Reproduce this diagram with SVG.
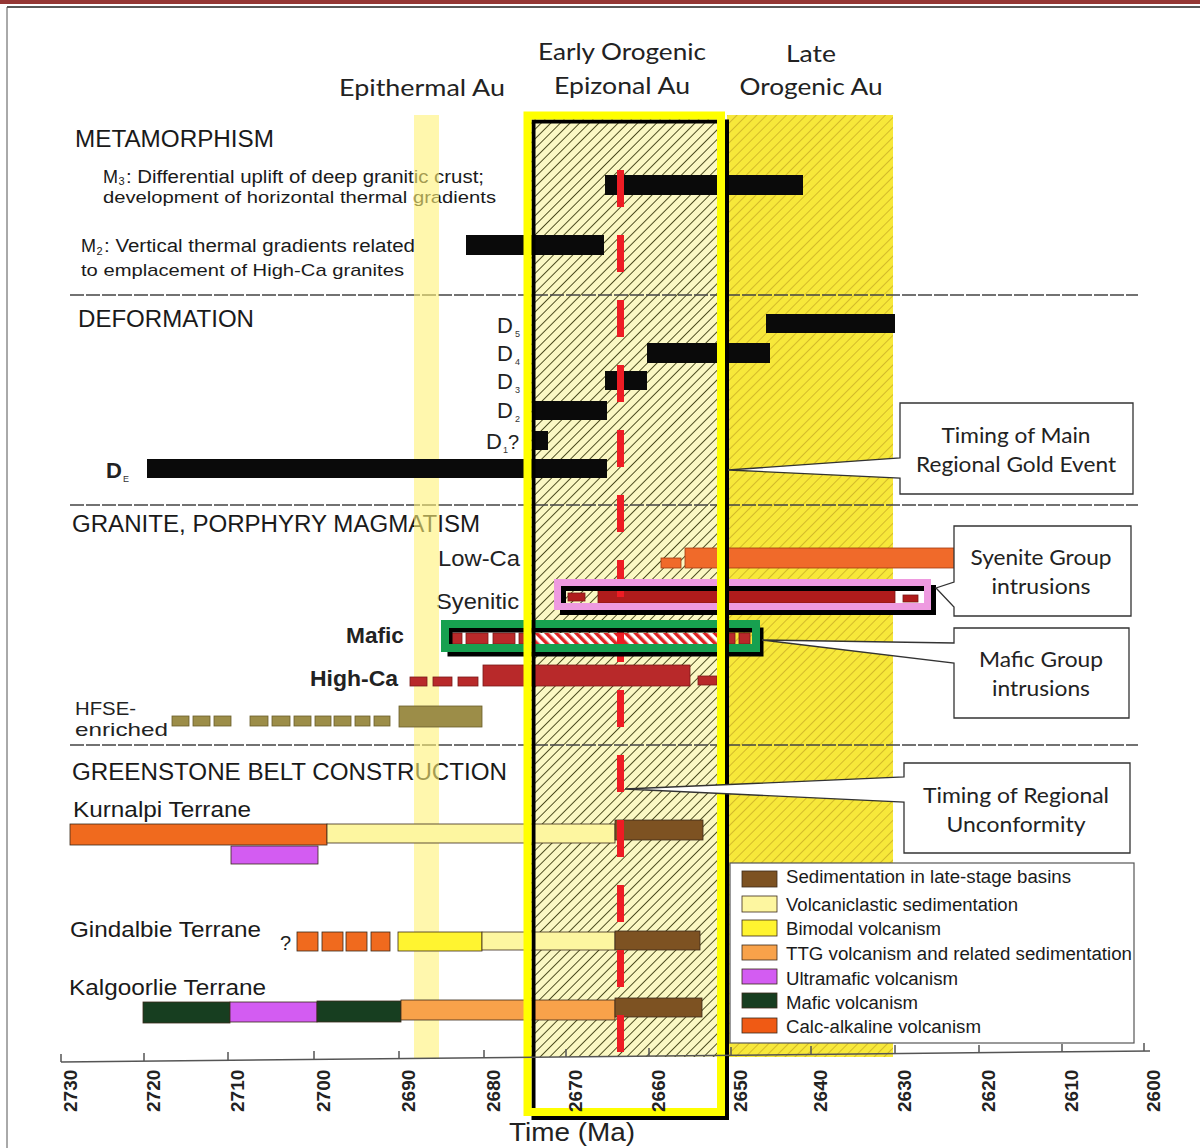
<svg xmlns="http://www.w3.org/2000/svg" width="1200" height="1148" viewBox="0 0 1200 1148">
<defs>
<style>
.hd{font-family:Lato,"Open Sans",sans-serif;font-size:24px;fill:#222;text-anchor:middle}
.co{font-family:Lato,"Open Sans",sans-serif;font-size:22px;fill:#222;text-anchor:middle}
.sec{font-family:"Liberation Sans",Arial,sans-serif;font-size:23px;fill:#1a1a1a}
.lb{font-family:"Liberation Sans",Arial,sans-serif;font-size:18px;fill:#1a1a1a}
.dl{font-family:"Liberation Sans",Arial,sans-serif;font-size:22px;fill:#222}
.sub{font-family:"Liberation Sans",Arial,sans-serif;font-size:9px;fill:#333}
.lg{font-family:"Liberation Sans",Arial,sans-serif;font-size:18px;fill:#1a1a1a}
.ax{font-family:"Liberation Sans",Arial,sans-serif;font-size:19px;fill:#222;font-weight:bold}
.blk{fill:#0a0a0a}
.gr{fill:#b8292a;stroke:#7a1a18;stroke-width:0.8}
.ol{fill:#9c8d48;stroke:#6a5e2a;stroke-width:0.8}
.gs{stroke:#3a2a1a;stroke-width:0.8}
.sep{stroke:#444;stroke-width:1.5;stroke-dasharray:14 2;fill:none}
.call{fill:#fff;stroke:#333;stroke-width:1.3}
</style>
<pattern id="hatchEarly" patternUnits="userSpaceOnUse" width="6.8" height="6.8" patternTransform="rotate(45)">
<rect width="6.8" height="6.8" fill="#fbf8c4"/>
<line x1="0" y1="0" x2="0" y2="6.8" stroke="#3e3e12" stroke-width="1.8"/>
</pattern>
<pattern id="hatchLate" patternUnits="userSpaceOnUse" width="7" height="7" patternTransform="rotate(45)">
<rect width="7" height="7" fill="#f7e83a"/>
<line x1="0" y1="0" x2="0" y2="7" stroke="#b08c1a" stroke-width="1"/>
</pattern>
<pattern id="hatchRed" patternUnits="userSpaceOnUse" width="7" height="7" patternTransform="rotate(-45)">
<rect width="7" height="7" fill="#ffffff"/>
<rect x="0" y="0" width="3.5" height="7" fill="#e02424"/>
</pattern>
</defs>

<rect width="1200" height="1148" fill="#fff"/>
<g id="frame">
<rect x="0" y="0" width="1200" height="4" fill="#943634"/>
<line x1="7" y1="7" x2="1200" y2="7" stroke="#222" stroke-width="1.5"/>
<line x1="7" y1="7" x2="7" y2="1148" stroke="#555" stroke-width="1"/>
</g>

<g id="zones">
<rect x="727" y="115" width="166" height="942" fill="url(#hatchLate)"/>
<rect x="531" y="119" width="192" height="938" fill="url(#hatchEarly)"/>
</g>

<g id="separators">
<line class="sep" x1="70" y1="295" x2="1138" y2="295"/>
<line class="sep" x1="70" y1="505" x2="1138" y2="505"/>
<line class="sep" x1="70" y1="745" x2="1138" y2="745"/>
</g>

<g id="headers">
<text class="hd" x="422" y="96" textLength="166" lengthAdjust="spacingAndGlyphs">Epithermal Au</text>
<text class="hd" x="622" y="60" textLength="168" lengthAdjust="spacingAndGlyphs">Early Orogenic</text>
<text class="hd" x="622" y="94" textLength="136" lengthAdjust="spacingAndGlyphs">Epizonal Au</text>
<text class="hd" x="811" y="62" textLength="50" lengthAdjust="spacingAndGlyphs">Late</text>
<text class="hd" x="811" y="95" textLength="143" lengthAdjust="spacingAndGlyphs">Orogenic Au</text>
</g>

<g id="labels">
<text class="sec" x="75" y="147" textLength="199" lengthAdjust="spacingAndGlyphs">METAMORPHISM</text>
<text class="lb" x="103" y="183">M</text>
<text class="lb" x="118.5" y="185" style="font-size:11px">3</text>
<text class="lb" x="126" y="183" textLength="358" lengthAdjust="spacingAndGlyphs">: Differential uplift of deep granitic crust;</text>
<text class="lb" x="103" y="203" textLength="393" lengthAdjust="spacingAndGlyphs" style="font-size:17px">development of horizontal thermal gradients</text>
<text class="lb" x="81" y="252">M</text>
<text class="lb" x="96.5" y="255" style="font-size:11px">2</text>
<text class="lb" x="104" y="252" textLength="311" lengthAdjust="spacingAndGlyphs">: Vertical thermal gradients related</text>
<text class="lb" x="81" y="276" textLength="323" lengthAdjust="spacingAndGlyphs" style="font-size:17px">to emplacement of High-Ca granites</text>

<text class="sec" x="78" y="327" textLength="176" lengthAdjust="spacingAndGlyphs">DEFORMATION</text>
<text class="dl" x="497" y="333">D</text><text class="sub" x="515" y="337">5</text>
<text class="dl" x="497" y="361">D</text><text class="sub" x="515" y="365">4</text>
<text class="dl" x="497" y="389">D</text><text class="sub" x="515" y="393">3</text>
<text class="dl" x="497" y="418">D</text><text class="sub" x="515" y="422">2</text>
<text class="dl" x="486" y="449">D</text><text class="sub" x="503" y="453">1</text><text class="dl" x="508" y="449" style="font-size:20px">?</text>
<text class="dl" x="106" y="478" style="font-weight:bold">D</text><text class="sub" x="123" y="482">E</text>

<text class="sec" x="72" y="532" textLength="408" lengthAdjust="spacingAndGlyphs">GRANITE, PORPHYRY MAGMATISM</text>
<text class="dl" x="520" y="566" text-anchor="end" textLength="82" lengthAdjust="spacingAndGlyphs">Low-Ca</text>
<text class="dl" x="519" y="609" text-anchor="end" textLength="83" lengthAdjust="spacingAndGlyphs">Syenitic</text>
<text class="dl" x="404" y="643" text-anchor="end" textLength="58" lengthAdjust="spacingAndGlyphs" style="font-weight:bold">Mafic</text>
<text class="dl" x="398" y="686" text-anchor="end" textLength="88" lengthAdjust="spacingAndGlyphs" style="font-weight:bold">High-Ca</text>
<text class="dl" x="75" y="715" textLength="61" lengthAdjust="spacingAndGlyphs" style="font-size:19px">HFSE-</text>
<text class="dl" x="75" y="736" textLength="93" lengthAdjust="spacingAndGlyphs" style="font-size:19px">enriched</text>

<text class="sec" x="72" y="780" textLength="435" lengthAdjust="spacingAndGlyphs">GREENSTONE BELT CONSTRUCTION</text>
<text class="sec" x="73" y="817" textLength="178" lengthAdjust="spacingAndGlyphs" style="font-size:22px">Kurnalpi Terrane</text>
<text class="sec" x="70" y="937" textLength="191" lengthAdjust="spacingAndGlyphs" style="font-size:22px">Gindalbie Terrane</text>
<text class="sec" x="69" y="995" textLength="197" lengthAdjust="spacingAndGlyphs" style="font-size:22px">Kalgoorlie Terrane</text>
<text class="dl" x="280" y="950" style="font-size:20px">?</text>
</g>

<rect id="epithermal-band" x="414" y="115" width="25" height="944" fill="#fff176" opacity="0.6"/>

<g id="metamorphism-bars">
<rect class="blk" x="605" y="175" width="198" height="20"/>
<rect class="blk" x="466" y="235" width="138" height="20"/>
</g>

<g id="deformation-bars">
<rect class="blk" x="766" y="314" width="129" height="19"/>
<rect class="blk" x="647" y="343" width="123" height="20"/>
<rect class="blk" x="605" y="371" width="42" height="19"/>
<rect class="blk" x="533" y="401" width="74" height="19"/>
<rect class="blk" x="533" y="431" width="15" height="19"/>
<rect class="blk" x="147" y="459" width="460" height="19"/>
</g>

<g id="granite-bars">
<rect x="661" y="558" width="20" height="10" fill="#f06a2a" stroke="#a03a10" stroke-width="0.8"/>
<rect x="685" y="548" width="270" height="20" fill="#f06a2a" stroke="#a03a10" stroke-width="0.8"/>
<rect class="gr" x="568" y="593" width="17" height="8" style="fill:#b01c1c"/>
<rect class="gr" x="598" y="590" width="297" height="13" style="fill:#b01c1c"/>
<rect class="gr" x="903" y="595" width="15" height="7" style="fill:#b01c1c"/>
<rect class="gr" x="451" y="633" width="11" height="11"/>
<rect class="gr" x="466" y="633" width="22" height="11"/>
<rect class="gr" x="493" y="633" width="22" height="11"/>
<rect class="gr" x="519" y="633" width="12" height="11"/>
<rect x="535" y="633" width="183" height="11" fill="url(#hatchRed)"/>
<rect class="gr" x="722" y="633" width="13" height="11"/>
<rect class="gr" x="739" y="633" width="11" height="11"/>
<rect class="gr" x="410" y="677" width="17" height="9"/>
<rect class="gr" x="433" y="677" width="19" height="9"/>
<rect class="gr" x="458" y="677" width="20" height="9"/>
<rect class="gr" x="483" y="665" width="207" height="21"/>
<rect class="gr" x="698" y="676" width="19" height="9"/>
<rect class="ol" x="172" y="716" width="17" height="10"/>
<rect class="ol" x="193" y="716" width="17" height="10"/>
<rect class="ol" x="214" y="716" width="17" height="10"/>
<rect class="ol" x="250" y="716" width="18" height="10"/>
<rect class="ol" x="272" y="716" width="18" height="10"/>
<rect class="ol" x="294" y="716" width="17" height="10"/>
<rect class="ol" x="315" y="716" width="16" height="10"/>
<rect class="ol" x="334" y="716" width="17" height="10"/>
<rect class="ol" x="355" y="716" width="15" height="10"/>
<rect class="ol" x="374" y="716" width="16" height="10"/>
<rect class="ol" x="399" y="706" width="83" height="21"/>
</g>

<g id="greenstone-bars">
<rect class="gs" x="70" y="824" width="257" height="21" fill="#f06a1e"/>
<rect class="gs" x="327" y="824" width="288" height="19" fill="#fdf6a0"/>
<rect class="gs" x="615" y="820" width="88" height="20" fill="#7d5222"/>
<rect class="gs" x="231" y="846" width="87" height="18" fill="#d35cf2"/>
<rect class="gs" x="297" y="932" width="21" height="19" fill="#f06a1e"/>
<rect class="gs" x="322" y="932" width="21" height="19" fill="#f06a1e"/>
<rect class="gs" x="346" y="932" width="21" height="19" fill="#f06a1e"/>
<rect class="gs" x="371" y="932" width="19" height="19" fill="#f06a1e"/>
<rect class="gs" x="398" y="932" width="84" height="19" fill="#fff430"/>
<rect class="gs" x="482" y="932" width="133" height="18" fill="#fdf6a0"/>
<rect class="gs" x="615" y="931" width="85" height="19" fill="#7d5222"/>
<rect class="gs" x="143" y="1002" width="87" height="21" fill="#173e20"/>
<rect class="gs" x="230" y="1002" width="87" height="20" fill="#d35cf2"/>
<rect class="gs" x="317" y="1001" width="84" height="21" fill="#173e20"/>
<rect class="gs" x="401" y="1000" width="214" height="20" fill="#f8a24a"/>
<rect class="gs" x="615" y="998" width="87" height="19" fill="#7d5222"/>
</g>

<line id="red-dashed" x1="620.5" y1="170" x2="620.5" y2="1055" stroke="#ee1c24" stroke-width="7" stroke-dasharray="37 28"/>

<g id="syenite-box">
<rect x="563" y="588" width="370" height="24" fill="none" stroke="#000" stroke-width="6"/>
<rect x="557.5" y="582.5" width="370" height="24" fill="none" stroke="#ee9ae0" stroke-width="7"/>
</g>
<g id="mafic-box">
<rect x="450" y="630" width="311" height="24" fill="none" stroke="#000" stroke-width="5"/>
<rect x="445" y="624" width="311" height="24" fill="none" stroke="#17a050" stroke-width="8"/>
</g>

<g id="early-box">
<rect x="533.5" y="121.5" width="193.5" height="996.5" fill="none" stroke="#000" stroke-width="4"/>
<rect x="527.5" y="115.5" width="193.5" height="996.5" fill="none" stroke="#ffff00" stroke-width="8"/>
</g>

<g id="callout-gold">
<path class="call" d="M900,403 H1133 V494 H900 V478 L728,470 L900,458 Z"/>
<text class="co" x="1016" y="443" textLength="149" lengthAdjust="spacingAndGlyphs">Timing of Main</text>
<text class="co" x="1016" y="472" textLength="200" lengthAdjust="spacingAndGlyphs">Regional Gold Event</text>
</g>
<g id="callout-syenite">
<path class="call" d="M954,526 H1131 V616 H954 V607 L936,588 L954,582 Z"/>
<text class="co" x="1041" y="565" textLength="141" lengthAdjust="spacingAndGlyphs">Syenite Group</text>
<text class="co" x="1041" y="594" textLength="99" lengthAdjust="spacingAndGlyphs">intrusions</text>
</g>
<g id="callout-mafic">
<path class="call" d="M954,628 H1129 V718 H954 V663 L762,640 L954,643 Z"/>
<text class="co" x="1041" y="667" textLength="124" lengthAdjust="spacingAndGlyphs">Mafic Group</text>
<text class="co" x="1041" y="696" textLength="98" lengthAdjust="spacingAndGlyphs">intrusions</text>
</g>
<g id="callout-unconformity">
<path class="call" d="M904,763 H1130 V853 H904 V802 L625,789 L904,777 Z"/>
<text class="co" x="1016" y="803" textLength="186" lengthAdjust="spacingAndGlyphs">Timing of Regional</text>
<text class="co" x="1016" y="832" textLength="139" lengthAdjust="spacingAndGlyphs">Unconformity</text>
</g>

<g id="legend">
<rect x="730" y="863" width="404" height="180" fill="#fff" stroke="#555" stroke-width="1.2"/>
<rect class="gs" x="742" y="871" width="35" height="16" fill="#7d5222"/>
<rect class="gs" x="742" y="896" width="35" height="16" fill="#fdf6a0"/>
<rect class="gs" x="742" y="920" width="35" height="16" fill="#fff430"/>
<rect class="gs" x="742" y="945" width="35" height="15" fill="#f8a24a"/>
<rect class="gs" x="742" y="969" width="35" height="15" fill="#d35cf2"/>
<rect class="gs" x="742" y="993" width="35" height="15" fill="#173e20"/>
<rect class="gs" x="742" y="1018" width="35" height="15" fill="#f05a14"/>
<text class="lg" x="786" y="883" textLength="285" lengthAdjust="spacingAndGlyphs">Sedimentation in late-stage basins</text>
<text class="lg" x="786" y="911" textLength="232" lengthAdjust="spacingAndGlyphs">Volcaniclastic sedimentation</text>
<text class="lg" x="786" y="935" textLength="155" lengthAdjust="spacingAndGlyphs">Bimodal volcanism</text>
<text class="lg" x="786" y="960" textLength="346" lengthAdjust="spacingAndGlyphs">TTG volcanism and related sedimentation</text>
<text class="lg" x="786" y="985" textLength="172" lengthAdjust="spacingAndGlyphs">Ultramafic volcanism</text>
<text class="lg" x="786" y="1009" textLength="132" lengthAdjust="spacingAndGlyphs">Mafic volcanism</text>
<text class="lg" x="786" y="1033" textLength="195" lengthAdjust="spacingAndGlyphs">Calc-alkaline volcanism</text>
</g>

<g id="axis">
<line x1="61" y1="1062" x2="1150" y2="1051" stroke="#555" stroke-width="1.5"/>
<g stroke="#555" stroke-width="1.5">
<line x1="61" y1="1062" x2="61" y2="1054"/>
<line x1="144" y1="1061" x2="144" y2="1053"/>
<line x1="228" y1="1060" x2="228" y2="1052"/>
<line x1="314" y1="1059" x2="314" y2="1051"/>
<line x1="399" y1="1059" x2="399" y2="1051"/>
<line x1="484" y1="1058" x2="484" y2="1050"/>
<line x1="566" y1="1057" x2="566" y2="1049"/>
<line x1="649" y1="1056" x2="649" y2="1048"/>
<line x1="731" y1="1055" x2="731" y2="1047"/>
<line x1="811" y1="1054" x2="811" y2="1046"/>
<line x1="895" y1="1053" x2="895" y2="1045"/>
<line x1="979" y1="1053" x2="979" y2="1045"/>
<line x1="1062" y1="1052" x2="1062" y2="1044"/>
<line x1="1144" y1="1051" x2="1144" y2="1043"/>
</g>
<text class="ax" transform="translate(77,1112) rotate(-90)">2730</text>
<text class="ax" transform="translate(160,1112) rotate(-90)">2720</text>
<text class="ax" transform="translate(244,1112) rotate(-90)">2710</text>
<text class="ax" transform="translate(330,1112) rotate(-90)">2700</text>
<text class="ax" transform="translate(415,1112) rotate(-90)">2690</text>
<text class="ax" transform="translate(500,1112) rotate(-90)">2680</text>
<text class="ax" transform="translate(582,1112) rotate(-90)">2670</text>
<text class="ax" transform="translate(665,1112) rotate(-90)">2660</text>
<text class="ax" transform="translate(747,1112) rotate(-90)">2650</text>
<text class="ax" transform="translate(827,1112) rotate(-90)">2640</text>
<text class="ax" transform="translate(911,1112) rotate(-90)">2630</text>
<text class="ax" transform="translate(995,1112) rotate(-90)">2620</text>
<text class="ax" transform="translate(1078,1112) rotate(-90)">2610</text>
<text class="ax" transform="translate(1160,1112) rotate(-90)">2600</text>
<text x="572" y="1141" text-anchor="middle" textLength="126" lengthAdjust="spacingAndGlyphs" style="font-family:'Liberation Sans',Arial,sans-serif;font-size:26px;fill:#222">Time (Ma)</text>
</g>
</svg>
